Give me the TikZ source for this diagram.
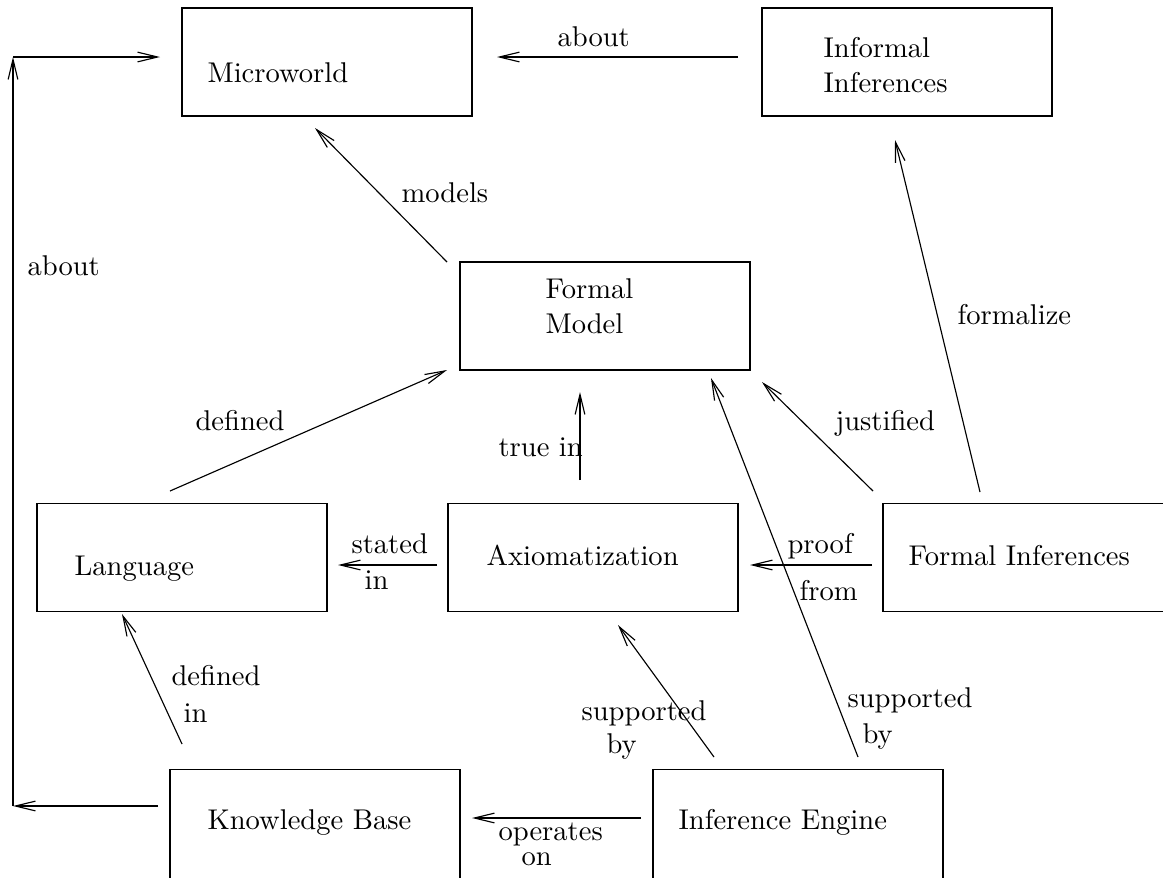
\documentclass[tikz,border=0pt]{standalone}
\usetikzlibrary{arrows.meta}

\tikzset{
  box/.style={draw, minimum width=101.5pt, minimum height=37.8pt, inner sep=0pt},
  lbl/.style={anchor=base west, inner sep=0pt},
  arr/.style={-{Straight Barb[length=7pt,width=3.4pt]}}
}

\begin{document}
\begin{tikzpicture}[x=0.35pt, y=-0.35pt]
  \useasboundingbox (0,0) rectangle (1163,878);
  % boxes
  \node[box] (mw) at (327,62) {};
  \node[box] (ii) at (907,62) {};
  \node[box] (fm) at (605,316) {};
  \node[box] (lang) at (182,557.5) {};
  \node[box] (ax) at (593,557.5) {};
  \node[box] (fi) at (1028,557.5) {};
  \node[box, minimum height=40pt] (kb) at (315,827) {};
  \node[box, minimum height=40pt] (ie) at (798,827) {};
  % box texts
  \node[lbl] (tmw) at (207,82) {Microworld};
  \node[lbl] (tii1) at (823,57) {Informal};
  \node[lbl] (tii2) at (823,92) {Inferences};
  \node[lbl] (tfm1) at (545,298) {Formal};
  \node[lbl] (tfm2) at (545,333) {Model};
  \node[lbl] (tlang) at (74,575) {Language};
  \node[lbl] (tax) at (486,565) {Axiomatization};
  \node[lbl] (tfi) at (908,565) {Formal Inferences};
  \node[lbl] (tkb) at (207,829) {Knowledge Base};
  \node[lbl] (tie) at (678,829) {Inference Engine};
  % connector ends
  \coordinate (ab1) at (738,57);   \coordinate (ab2) at (497,57);
  \coordinate (mo1) at (447,262);  \coordinate (mo2) at (315,128);
  \coordinate (fz1) at (980,492);  \coordinate (fz2) at (895,140);
  \coordinate (ju1) at (873,491);  \coordinate (ju2) at (762,382);
  \coordinate (tr1) at (580,480);  \coordinate (tr2) at (580,392);
  \coordinate (de1) at (170,491);  \coordinate (de2) at (447,370);
  \coordinate (st1) at (437,565);  \coordinate (st2) at (338,565);
  \coordinate (pr1) at (872,565);  \coordinate (pr2) at (750,565);
  \coordinate (sr1) at (858,757);  \coordinate (sr2) at (711,378);
  \coordinate (sl1) at (714,757);  \coordinate (sl2) at (618,625);
  \coordinate (di1) at (182,744);  \coordinate (di2) at (122,614);
  \coordinate (op1) at (641,818);  \coordinate (op2) at (472,818);
  \coordinate (lp1) at (158,806);  \coordinate (lp2) at (13,806);
  \coordinate (lp3) at (13,57);    \coordinate (lp4) at (160,57);
  % connectors
  \draw[arr] (ab1) -- (ab2);
  \draw[arr] (mo1) -- (mo2);
  \draw[arr] (fz1) -- (fz2);
  \draw[arr] (ju1) -- (ju2);
  \draw[arr] (tr1) -- (tr2);
  \draw[arr] (de1) -- (de2);
  \draw[arr] (st1) -- (st2);
  \draw[arr] (pr1) -- (pr2);
  \draw[arr] (sr1) -- (sr2);
  \draw[arr] (sl1) -- (sl2);
  \draw[arr] (di1) -- (di2);
  \draw[arr] (op1) -- (op2);
  \draw[arr] (lp1) -- (lp2);
  \draw[arr] (lp2) -- (lp3);
  \draw[arr] (lp3) -- (lp4);
  % connector labels
  \node[lbl] (lab) at (557,46) {about};
  \node[lbl] (lmo) at (401,202) {models};
  \node[lbl] (lal) at (27,275) {about};
  \node[lbl] (lfz) at (957,324) {formalize};
  \node[lbl] (lju) at (835,430) {justified};
  \node[lbl] (ltr) at (498,456) {true in};
  \node[lbl] (lde) at (195,430) {defined};
  \node[lbl] (lst1) at (351,553) {stated};
  \node[lbl] (lst2) at (364,589) {in};
  \node[lbl] (lpr1) at (787,553) {proof};
  \node[lbl] (lpr2) at (799,600) {from};
  \node[lbl] (lsr1) at (847,707) {supported};
  \node[lbl] (lsr2) at (862,743) {by};
  \node[lbl] (lsl1) at (581,720) {supported};
  \node[lbl] (lsl2) at (606,753) {by};
  \node[lbl] (ldi1) at (171,685) {defined};
  \node[lbl] (ldi2) at (183,722) {in};
  \node[lbl] (lop1) at (498,840) {operates};
  \node[lbl] (lop2) at (521,865) {on};
\end{tikzpicture}
\end{document}
